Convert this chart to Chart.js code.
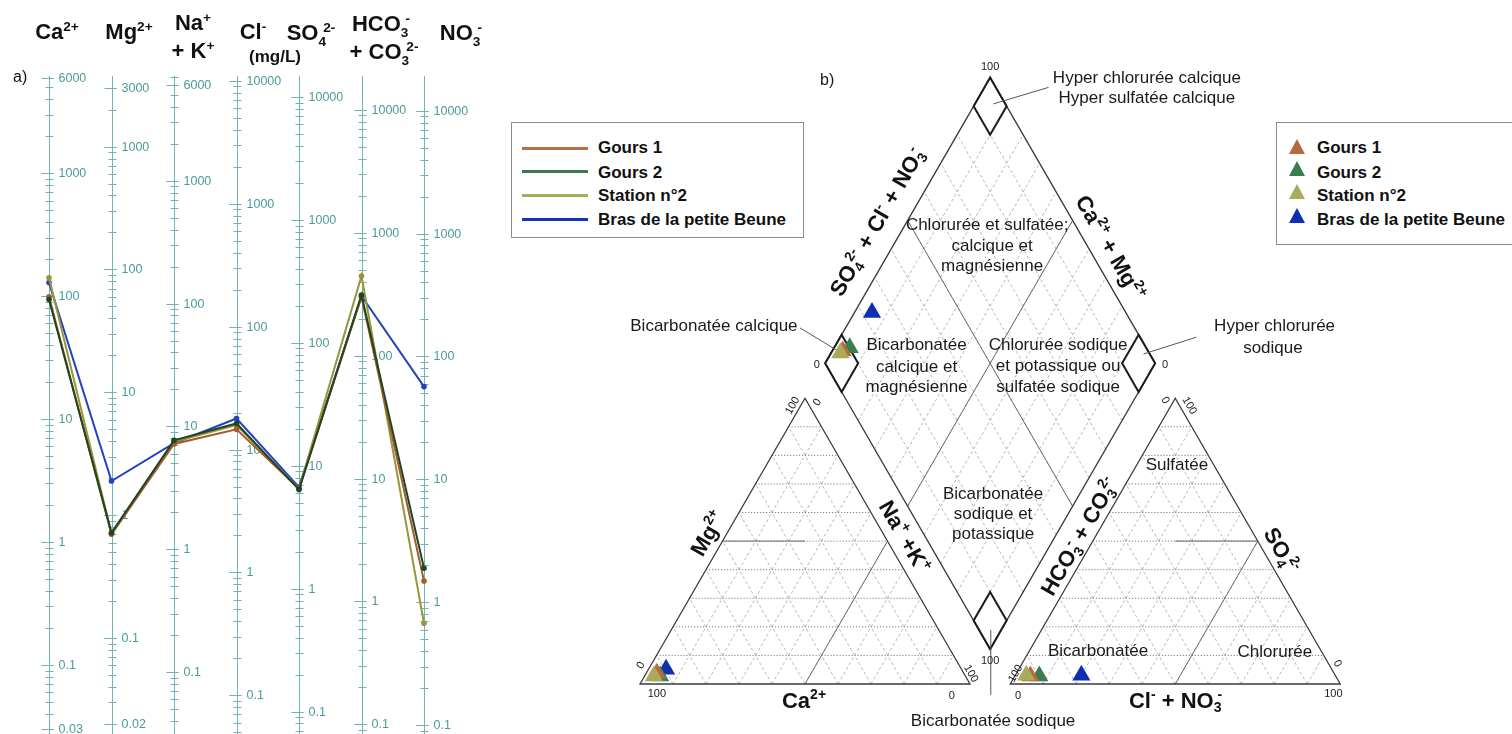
<!DOCTYPE html>
<html lang="fr">
<head>
<meta charset="utf-8">
<title>Diagrammes de Schoeller et de Piper</title>
<script src="https://cdn.jsdelivr.net/npm/chart.js@4.4.1/dist/chart.umd.min.js"></script>
<style>
  html, body { margin: 0; padding: 0; background: #fff; }
  #page { position: relative; width: 1512px; height: 734px; overflow: hidden; font-family: "Liberation Sans", Arial, sans-serif; color: #111; }
  .abs { position: absolute; white-space: nowrap; line-height: 1; }
  .hd { font-weight: bold; font-size: 22px; transform: translateX(-50%); }
  .hd sup { font-size: 0.62em; vertical-align: 0.62em; line-height: 0; }
  .ss { display: inline-flex; flex-direction: column; font-size: 0.62em; line-height: 1; vertical-align: 0.6em; }
  .ss > span:first-child { padding-left: 0.35em; }
  .box { border: 1px solid #8c8c8c; background: #fff; }
  .lg { font-weight: bold; font-size: 17px; }
  .swatch { height: 3px; width: 66px; }
  .tri { width: 0; height: 0; border-left: 8.7px solid transparent; border-right: 8.7px solid transparent; border-bottom: 15.7px solid #000; }
  canvas { position: absolute; top: 0; }
</style>
</head>
<body>
<div id="page">
  <canvas id="schoeller" width="470" height="734" style="left:0"></canvas>
  <canvas id="piper" width="912" height="734" style="left:600px"></canvas>

  <!-- column headers of a) -->
  <div class="abs hd" style="left:57px;top:21px">Ca<sup>2+</sup></div>
  <div class="abs hd" style="left:129px;top:21px">Mg<sup>2+</sup></div>
  <div class="abs hd" style="left:193px;top:12px">Na<sup>+</sup></div>
  <div class="abs hd" style="left:193px;top:40px">+ K<sup>+</sup></div>
  <div class="abs hd" style="left:253px;top:21px">Cl<sup>-</sup></div>
  <div class="abs hd" style="left:275px;top:48px;font-size:17px">(mg/L)</div>
  <div class="abs hd" style="left:311px;top:21px">SO<span class="ss"><span>2-</span><span>4</span></span></div>
  <div class="abs hd" style="left:381px;top:12px">HCO<span class="ss"><span>-</span><span>3</span></span></div>
  <div class="abs hd" style="left:384px;top:40px">+ CO<span class="ss"><span>2-</span><span>3</span></span></div>
  <div class="abs hd" style="left:461px;top:21px">NO<span class="ss"><span>-</span><span>3</span></span></div>
  <div class="abs" style="left:13px;top:69px;font-size:16px">a)</div>

  <!-- legend of a) -->
  <div class="abs box" style="left:511px;top:122px;width:291px;height:114px"></div>
  <div class="abs swatch" style="left:522px;top:147px;background:#b9703f"></div>
  <div class="abs lg" style="left:598px;top:139px">Gours 1</div>
  <div class="abs swatch" style="left:522px;top:170px;background:#3b7a4d"></div>
  <div class="abs lg" style="left:598px;top:164px">Gours 2</div>
  <div class="abs swatch" style="left:522px;top:194px;background:#a7ac5a"></div>
  <div class="abs lg" style="left:598px;top:187px">Station n°2</div>
  <div class="abs swatch" style="left:522px;top:218px;background:#1433b8"></div>
  <div class="abs lg" style="left:598px;top:211px">Bras de la petite Beune</div>

  <!-- legend of b) -->
  <div class="abs box" style="left:1276px;top:122px;width:260px;height:121px"></div>
  <div class="abs tri" style="left:1289px;top:139px;border-bottom-color:#b8693d"></div>
  <div class="abs lg" style="left:1317px;top:139px">Gours 1</div>
  <div class="abs tri" style="left:1289px;top:161px;border-bottom-color:#3a7d4e"></div>
  <div class="abs lg" style="left:1317px;top:164px">Gours 2</div>
  <div class="abs tri" style="left:1289px;top:184px;border-bottom-color:#a9aa5b"></div>
  <div class="abs lg" style="left:1317px;top:187px">Station n°2</div>
  <div class="abs tri" style="left:1289px;top:208px;border-bottom-color:#0f2fb0"></div>
  <div class="abs lg" style="left:1317px;top:211px">Bras de la petite Beune</div>
</div>

<script>
// ---------- a) Schoeller diagram, concentrations in mg/L ----------
const ions = ['Ca2+', 'Mg2+', 'Na+ + K+', 'Cl-', 'SO4 2-', 'HCO3- + CO3 2-', 'NO3-'];
const eqWeights = [20.04, 12.15, 22.99, 35.45, 48.03, 61.02, 62.0];   // mg per meq, shifts each log axis
const gours1 = [99, 0.70, 7.2, 14.6, 6.5, 300, 1.49];
const gours2 = [94, 0.72, 7.7, 16.3, 6.4, 311, 1.89];
const station2 = [141, 0.71, 7.5, 15.8, 6.5, 445, 0.675];
const petiteBeune = [129, 1.9, 7.3, 17.9, 6.7, 306, 56.8];

// labelled ticks of each vertical axis (mg/L)
const axisLabels = [
  [0.03, 0.1, 1, 10, 100, 1000, 6000],
  [0.02, 0.1, 1, 10, 100, 1000, 3000],
  [0.1, 1, 10, 100, 1000, 6000],
  [0.1, 1, 10, 100, 1000, 10000],
  [0.1, 1, 10, 100, 1000, 10000],
  [0.1, 1, 10, 100, 1000, 10000],
  [0.1, 1, 10, 100, 1000, 10000]
];
const meqRange = [0.001367, 308.9];

// ---------- b) Piper diagram, % of meq ----------
const sampleNames = ['Gours 1', 'Gours 2', 'Station n°2', 'Bras de la petite Beune'];
const caPct = [93.0, 92.5, 94.4, 89.5];
const mgPct = [3.8, 2.8, 2.8, 5.2];
const naKPct = [3.2, 4.7, 2.8, 5.3];
const hco3Pct = [92.5, 89.8, 93.6, 76.9];
const so4Pct = [2.8, 2.8, 3.1, 3.1];
const clNo3Pct = [4.7, 7.4, 3.3, 20.0];

const lineColors = ['#a85a2c', '#1d4622', '#96963a', '#2443bf'];
const markerColors = ['#b8693d', '#3a7d4e', '#a9aa5b', '#0f2fb0'];

const FONT = '"Liberation Sans", Arial, sans-serif';

// ---------- Schoeller ----------
const schoellerAxes = {
  id: 'schoellerAxes',
  beforeDatasetsDraw(chart) {
    const {ctx, chartArea, scales: {x, y}} = chart;
    ctx.save();
    ctx.strokeStyle = '#72b2b2';
    ctx.fillStyle = '#4a9a9a';
    ctx.lineWidth = 1;
    ctx.font = '12.5px ' + FONT;
    ctx.textBaseline = 'middle';
    ions.forEach((ion, i) => {
      const px = Math.round(x.getPixelForValue(i)) + 0.5;
      ctx.beginPath();
      ctx.moveTo(px, chartArea.top);
      ctx.lineTo(px, chartArea.bottom);
      ctx.stroke();
      const lo = y.min * eqWeights[i], hi = y.max * eqWeights[i];
      const tick = (v, l, r) => {
        const py = Math.round(y.getPixelForValue(v / eqWeights[i])) + 0.5;
        ctx.beginPath();
        ctx.moveTo(px - l, py);
        ctx.lineTo(px + r, py);
        ctx.stroke();
        return py;
      };
      for (let d = Math.floor(Math.log10(lo)); d <= Math.ceil(Math.log10(hi)); d++) {
        for (let k = 1; k <= 9; k++) {
          const v = k * Math.pow(10, d);
          if (v < lo || v > hi) continue;
          tick(v, k === 1 ? 8 : 4, 4);
        }
      }
      axisLabels[i].forEach(v => {
        const py = tick(v, 8, 4);
        ctx.fillText(String(v), px + 9, py);
      });
    });
    ctx.restore();
  }
};

const toMeq = vals => vals.map((v, i) => v / eqWeights[i]);
const schoellerSeries = [gours2, gours1, station2, petiteBeune];
const schoellerOrder = [1, 0, 2, 3];

new Chart(document.getElementById('schoeller'), {
  type: 'line',
  data: {
    labels: ions,
    datasets: schoellerSeries.map((vals, k) => ({
      label: sampleNames[schoellerOrder[k]],
      data: toMeq(vals),
      borderColor: lineColors[schoellerOrder[k]],
      backgroundColor: lineColors[schoellerOrder[k]],
      pointBackgroundColor: lineColors[schoellerOrder[k]]
    }))
  },
  options: {
    responsive: false,
    animation: false,
    layout: {autoPadding: false, padding: {left: 17.75, right: 14.75, top: 76, bottom: 0}},
    elements: {
      line: {borderWidth: 2, tension: 0},
      point: {radius: 2.8, borderWidth: 0}
    },
    plugins: {legend: {display: false}, tooltip: {enabled: false}},
    scales: {
      x: {type: 'category', offset: true, display: false},
      y: {type: 'logarithmic', min: meqRange[0], max: meqRange[1], display: false}
    }
  },
  plugins: [schoellerAxes]
});

// ---------- Piper ----------
const SIDE = 100, TH = SIDE * Math.sqrt(3) / 2, GAP = 12.2;
const DB = {x: SIDE + GAP / 2, y: GAP * Math.sqrt(3) / 2};
const leftTri = [{x: 0, y: 0}, {x: SIDE, y: 0}, {x: SIDE / 2, y: TH}];                       // Ca, Na+K, Mg
const rightTri = [{x: SIDE + GAP, y: 0}, {x: 2 * SIDE + GAP, y: 0}, {x: 1.5 * SIDE + GAP, y: TH}]; // HCO3, Cl+NO3, SO4

function bary(tri, w0, w1, w2) {
  return {
    x: (w0 * tri[0].x + w1 * tri[1].x + w2 * tri[2].x) / 100,
    y: (w0 * tri[0].y + w1 * tri[1].y + w2 * tri[2].y) / 100
  };
}
// s runs toward the left corner of the diamond, t toward the right corner
function dia(s, t) {
  return {x: DB.x - s * SIDE / 2 + t * SIDE / 2, y: DB.y + (s + t) * TH};
}

function drawRich(ctx, parts, x, y, angle, size, bold, color) {
  const w = bold ? 'bold ' : '';
  const big = w + size + 'px ' + FONT, small = w + Math.round(size * 0.62) + 'px ' + FONT;
  const widths = parts.map(p => {
    if (p.t !== undefined) { ctx.font = big; return ctx.measureText(p.t).width; }
    ctx.font = small;
    return Math.max(p.sup ? ctx.measureText(p.sup).width + (p.sub ? size * 0.18 : 0) : 0,
                    p.sub ? ctx.measureText(p.sub).width : 0);
  });
  const total = widths.reduce((a, b) => a + b, 0);
  ctx.save();
  ctx.translate(x, y);
  ctx.rotate(angle * Math.PI / 180);
  ctx.fillStyle = color;
  ctx.textAlign = 'left';
  ctx.textBaseline = 'alphabetic';
  const base = size * 0.36;
  let cx = -total / 2;
  parts.forEach((p, i) => {
    if (p.t !== undefined) {
      ctx.font = big;
      ctx.fillText(p.t, cx, base);
    } else {
      ctx.font = small;
      if (p.sup) ctx.fillText(p.sup, cx + (p.sub ? size * 0.18 : 0), base - size * 0.42);
      if (p.sub) ctx.fillText(p.sub, cx, base + size * 0.2);
    }
    cx += widths[i];
  });
  ctx.restore();
}

const plainLabels = [
  ['Hyper chlorurée calcique', 153.6, 184.1], ['Hyper sulfatée calcique', 153.6, 178.0],
  ['Chlorurée et sulfatée;', 105.2, 139.4], ['calcique et', 106.7, 133.0], ['magnésienne', 106.7, 127.0],
  ['Bicarbonatée calcique', 22.4, 108.8],
  ['Bicarbonatée', 83.8, 103.0], ['calcique et', 83.8, 96.4], ['magnésienne', 83.8, 90.3],
  ['Chlorurée sodique', 126.7, 103.2], ['et potassique ou', 126.7, 96.7], ['sulfatée sodique', 126.7, 90.3],
  ['Hyper chlorurée', 192.3, 108.8], ['sodique', 191.8, 102.3],
  ['Bicarbonatée', 107.0, 58.0], ['sodique et', 107.0, 52.0], ['potassique', 107.0, 45.8],
  ['Bicarbonatée sodique', 107.0, -10.9],
  ['Sulfatée', 162.7, 66.7], ['Bicarbonatée', 138.8, 10.3], ['Chlorurée', 192.4, 10.0]
];
const numberLabels = [
  ['100', 106.1, 187.3, 0], ['0', 53.6, 97.0, 0], ['0', 159.1, 97.0, 0], ['100', 106.1, 7.3, 0],
  ['100', 46.0, 84.5, -60], ['0', 53.5, 85.5, -60], ['0', 0, 5.8, -60], ['100', 5.1, -2.8, 0],
  ['0', 94.5, -3.3, 0], ['100', 100.5, 3.3, 60], ['100', 113.6, 3.3, -60], ['0', 114.6, -3.3, 0],
  ['0', 159.4, 86.1, 60], ['100', 166.7, 84.5, 60], ['0', 211.6, 6.3, 60], ['100', 210.1, -2.8, 0]
];
const axisTitles = [
  [[{t: 'SO'}, {sub: '4', sup: '2-'}, {t: ' + Cl'}, {sup: '-'}, {t: ' + NO'}, {sub: '3', sup: '-'}], 71.7, 140.1, -60],
  [[{t: 'Ca'}, {sup: '2+'}, {t: ' + Mg'}, {sup: '2+'}], 142.7, 132.3, 60],
  [[{t: 'Mg'}, {sup: '2+'}], 20.5, 45.7, -60],
  [[{t: 'Na'}, {sup: '+'}, {t: ' +K'}, {sup: '+'}], 80.3, 44.7, 60],
  [[{t: 'Ca'}, {sup: '2+'}], 49.7, -4.8, 0],
  [[{t: 'HCO'}, {sub: '3', sup: '-'}, {t: ' + CO'}, {sub: '3', sup: '2-'}], 133.0, 44.8, -60],
  [[{t: 'SO'}, {sub: '4', sup: '2-'}], 194.5, 40.6, 60],
  [[{t: 'Cl'}, {sup: '-'}, {t: ' + NO'}, {sub: '3', sup: '-'}], 162.3, -4.8, 0]
];
const leaders = [
  [{x: 107.1, y: 175.8}, {x: 123.8, y: 180.8}],
  [{x: 48.5, y: 107.9}, {x: 60.2, y: 100.8}],
  [{x: 152.6, y: 100.0}, {x: 168.6, y: 105.1}],
  [{x: 106.3, y: 16.4}, {x: 106.3, y: -3.3}]
];

const piperFrame = {
  id: 'piperFrame',
  beforeDatasetsDraw(chart) {
    const {ctx, scales: {x: xs, y: ys}} = chart;
    const px = p => [xs.getPixelForValue(p.x), ys.getPixelForValue(p.y)];
    const seg = (a, b) => {
      const [x1, y1] = px(a), [x2, y2] = px(b);
      ctx.beginPath(); ctx.moveTo(x1, y1); ctx.lineTo(x2, y2); ctx.stroke();
    };
    const poly = pts => {
      ctx.beginPath();
      pts.forEach((p, i) => { const [x, y] = px(p); i ? ctx.lineTo(x, y) : ctx.moveTo(x, y); });
      ctx.closePath(); ctx.stroke();
    };
    ctx.save();
    // dashed 10 % grid
    for (const tri of [leftTri, rightTri]) {
      for (let f = 10; f < 100; f += 10) {
        ctx.setLineDash([1.2, 1.8]); ctx.strokeStyle = '#6e6e6e'; ctx.lineWidth = 0.9;
        seg(bary(tri, 100 - f, 0, f), bary(tri, 0, 100 - f, f));
        ctx.setLineDash([3, 2.5]); ctx.strokeStyle = '#a4a4a4'; ctx.lineWidth = 0.8;
        seg(bary(tri, 100 - f, f, 0), bary(tri, 0, f, 100 - f));
        seg(bary(tri, f, 100 - f, 0), bary(tri, f, 0, 100 - f));
      }
    }
    for (let i = 1; i < 10; i++) {
      const f = i / 10;
      seg(dia(f, 0), dia(f, 1));
      seg(dia(0, f), dia(1, f));
    }
    // classification lines
    ctx.setLineDash([]); ctx.strokeStyle = '#6a6a6a'; ctx.lineWidth = 1;
    seg(dia(0.5, 0), dia(0.5, 1));
    seg(dia(0, 0.5), dia(1, 0.5));
    seg(bary(leftTri, 50, 0, 50), bary(leftTri, 25, 25, 50));
    seg(bary(leftTri, 50, 50, 0), bary(leftTri, 0, 50, 50));
    seg(bary(rightTri, 25, 25, 50), bary(rightTri, 0, 50, 50));
    seg(bary(rightTri, 50, 50, 0), bary(rightTri, 0, 50, 50));
    // frames
    ctx.strokeStyle = '#3a3a3a'; ctx.lineWidth = 1.3;
    poly(leftTri); poly(rightTri);
    poly([dia(0, 0), dia(1, 0), dia(1, 1), dia(0, 1)]);
    ctx.strokeStyle = '#1a1a1a'; ctx.lineWidth = 2;
    poly([dia(0.9, 0.9), dia(1, 0.9), dia(1, 1), dia(0.9, 1)]);
    poly([dia(0.9, 0), dia(1, 0), dia(1, 0.1), dia(0.9, 0.1)]);
    poly([dia(0, 0.9), dia(0.1, 0.9), dia(0.1, 1), dia(0, 1)]);
    poly([dia(0, 0), dia(0.1, 0), dia(0.1, 0.1), dia(0, 0.1)]);
    // leader lines
    ctx.strokeStyle = '#555'; ctx.lineWidth = 1;
    leaders.forEach(([a, b]) => seg(a, b));
    // texts
    const [bx, by] = px({x: 56.7, y: 183.3});
    drawRich(ctx, [{t: 'b)'}], bx, by, 0, 16, false, '#1a1a1a');
    plainLabels.forEach(([t, x, y]) => {
      const [X, Y] = px({x, y});
      drawRich(ctx, [{t}], X, Y, 0, 17, false, '#1a1a1a');
    });
    numberLabels.forEach(([t, x, y, a]) => {
      const [X, Y] = px({x, y});
      drawRich(ctx, [{t}], X, Y, a, 11, false, '#1a1a1a');
    });
    axisTitles.forEach(([parts, x, y, a]) => {
      const [X, Y] = px({x, y});
      drawRich(ctx, parts, X, Y, a, 22, true, '#111');
    });
    ctx.restore();
  }
};

const piperOrder = [2, 0, 1, 3];   // first dataset is drawn on top
const K = 3.3;                      // pixels per diagram unit

new Chart(document.getElementById('piper'), {
  type: 'scatter',
  data: {
    datasets: piperOrder.map(i => ({
      label: sampleNames[i],
      data: [
        bary(leftTri, caPct[i], naKPct[i], mgPct[i]),
        bary(rightTri, hco3Pct[i], clNo3Pct[i], so4Pct[i]),
        dia(1 - naKPct[i] / 100, 1 - hco3Pct[i] / 100)
      ],
      backgroundColor: markerColors[i],
      borderColor: markerColors[i]
    }))
  },
  options: {
    responsive: false,
    animation: false,
    layout: {autoPadding: false, padding: 0},
    elements: {point: {pointStyle: 'triangle', radius: 10.5, borderWidth: 0}},
    plugins: {legend: {display: false}, tooltip: {enabled: false}},
    scales: {
      x: {type: 'linear', min: -40 / K, max: 872 / K, display: false},
      y: {type: 'linear', min: -50 / K, max: 684 / K, display: false}
    }
  },
  plugins: [piperFrame]
});
</script>
</body>
</html>
